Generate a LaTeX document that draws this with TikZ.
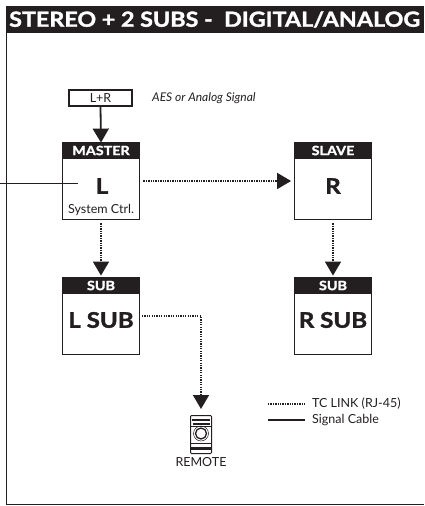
\documentclass[tikz,border=0pt]{standalone}
\usepackage{fontspec}
\setmainfont{Lato}[BoldFeatures={FakeBold=1.6,FakeStretch=1.12}]
\usetikzlibrary{arrows.meta}
\definecolor{inkblack}{HTML}{231F20}
\tikzset{
    unitbox/.style={draw=inkblack,line width=1.8pt,fill=white,minimum width=77pt,minimum height=77pt,inner sep=0},
    unithead/.style={draw=inkblack,line width=1.8pt,fill=inkblack,text=white,minimum width=77pt,minimum height=16pt,inner sep=0,font=\fontsize{12.8}{13}\selectfont\bfseries},
    unitlabel/.style={text=inkblack,inner sep=0,font=\fontsize{21.5}{22}\selectfont\bfseries},
    legendlabel/.style={text=inkblack,inner sep=0,anchor=west,font=\fontsize{12.5}{13}\selectfont},
    tclink/.style={draw=inkblack,line width=1.6pt,dash pattern=on 1.3pt off 1.1pt},
    bigarrow/.style={-{Triangle[width=16pt,length=14pt,inkblack]}},
}
\begin{document}
\begin{tikzpicture}[x=1pt,y=-1pt]
    \useasboundingbox (0,0) rectangle (424,506);
    % frame
    \draw[inkblack,line width=1.8pt] (6.5,6) -- (6.5,504.5) -- (424,504.5);
    \fill[inkblack] (6,6) rectangle (424,33);
    \node[text=white,inner sep=0,anchor=west,font=\fontsize{20.8}{22}\selectfont\bfseries] (title) at (9,19.5) {STEREO + 2 SUBS -\ \ DIGITAL/ANALOG};

    \node[draw=inkblack,line width=1.5pt,minimum width=63pt,minimum height=16pt,inner sep=0,text=inkblack,font=\fontsize{12.5}{13}\selectfont] (input) at (100.5,98) {L+R};
    \node[text=inkblack,inner sep=0,anchor=west,font=\fontsize{12}{13}\selectfont\itshape] (inputnote) at (152,98.5) {AES or Analog Signal};

    \node[unitbox] (master) at (101,181) {};
    \node[unithead,anchor=north] (masterhead) at (master.north) {MASTER};
    \node[unitlabel] (masterlabel) at (102,186) {L};
    \node[text=inkblack,inner sep=0,font=\fontsize{12.5}{13}\selectfont] (masternote) at (101,210) {System Ctrl.};

    \node[unitbox] (slave) at (333,181) {};
    \node[unithead,anchor=north] (slavehead) at (slave.north) {SLAVE};
    \node[unitlabel] (slavelabel) at (333,186) {R};

    \node[unitbox] (lsub) at (101,316) {};
    \node[unithead,anchor=north] (lsubhead) at (lsub.north) {SUB};
    \node[unitlabel] (lsublabel) at (101,320) {L SUB};

    \node[unitbox] (rsub) at (333,316) {};
    \node[unithead,anchor=north] (rsubhead) at (rsub.north) {SUB};
    \node[unitlabel] (rsublabel) at (333,320) {R SUB};

    % remote
    \node[draw=inkblack,line width=1pt,rounded corners=1pt,minimum width=21pt,minimum height=38pt,inner sep=0] (remote) at (201,434.5) {};
    \fill[inkblack] (192,419) rectangle (210,421);
    \fill[inkblack] (193,423) rectangle (210,425);
    \draw[inkblack,line width=.7pt] (191,426.5) -- (211,426.5);
    \draw[inkblack,line width=1.3pt] (201,433.5) circle (5.5);
    \draw[inkblack,line width=.5pt] (201,433.5) circle (7.5);
    \fill[inkblack] (191,442.5) rectangle (211,444);
    \fill[inkblack] (191,446.5) rectangle (211,449.5);
    \node[text=inkblack,inner sep=0,font=\fontsize{12.5}{13}\selectfont] (remotelabel) at (201,462) {REMOTE};

    \draw[inkblack,line width=1.8pt,bigarrow] (input.south) -- ([yshift=-1pt]masterhead.north);
    \draw[tclink,bigarrow,shorten <=3pt,shorten >=2.5pt] (master.east) -- (slave.west);
    \draw[tclink,bigarrow,shorten <=3pt,shorten >=1pt] (master.south) -- (lsubhead.north);
    \draw[tclink,bigarrow,shorten <=3pt,shorten >=1pt] (slave.south) -- (rsubhead.north);
    \coordinate (lsubturn) at (201,316);
    \draw[tclink,bigarrow,shorten <=1.5pt,shorten >=6pt] (lsub.east) -- (lsubturn) -- (remote.north);

    \coordinate (signalin) at (0,183);
    \coordinate (signalout) at (78,183);
    \draw[inkblack,line width=1pt] (signalin) -- (signalout);

    % legend
    \coordinate (tcstart) at (268,404);
    \coordinate (tcend) at (305,404);
    \coordinate (cablestart) at (268,420);
    \coordinate (cableend) at (305,420);
    \draw[tclink,line width=1.2pt] (tcstart) -- (tcend);
    \draw[inkblack,line width=1.8pt] (cablestart) -- (cableend);
    \node[legendlabel] (tclabel) at (312,403.5) {TC LINK (RJ-45)};
    \node[legendlabel] (cablelabel) at (312,420) {Signal Cable};
\end{tikzpicture}
\end{document}
